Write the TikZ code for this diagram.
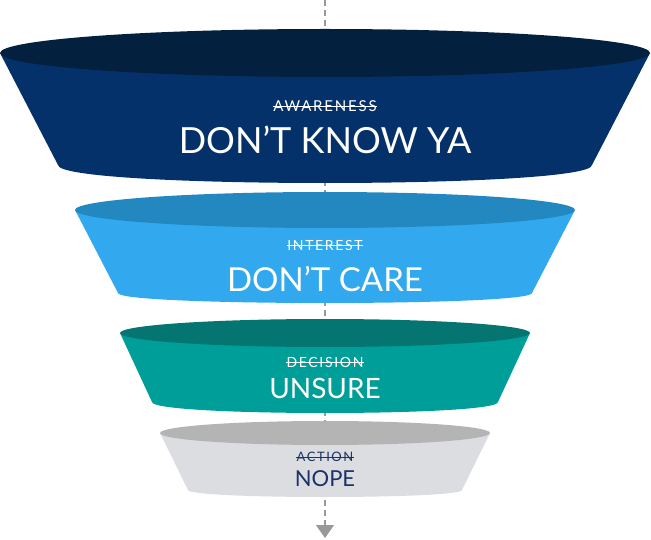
\documentclass[tikz,border=0pt]{standalone}
\usepackage{fontspec}
\setmainfont{Lato}
\newfontfamily\spacedfont[LetterSpace=12]{Lato}
\usetikzlibrary{arrows.meta}

\definecolor{navybody}{HTML}{05316A}
\definecolor{navytop}{HTML}{03203F}
\definecolor{skybody}{HTML}{32A9EE}
\definecolor{skytop}{HTML}{2488C0}
\definecolor{tealbody}{HTML}{009E99}
\definecolor{tealtop}{HTML}{047570}
\definecolor{greybody}{HTML}{DCDDE0}
\definecolor{greytop}{HTML}{B4B4B4}
\definecolor{inknavy}{HTML}{1B3368}

\tikzset{
  guide/.style={gray!80, line width=1.2pt, dash pattern=on 6pt off 4pt},
  sublabel/.style={inner sep=0pt, font=\spacedfont},
  mainlabel/.style={inner sep=0pt}
}

\begin{document}
\begin{tikzpicture}[x=1pt,y=-1pt]
\useasboundingbox (0,0) rectangle (651,540);

% centre guide with arrow
\coordinate (guidetop) at (325,0);
\coordinate (guidetip) at (325,538);
\draw[guide, -{Triangle[width=18pt,length=13pt]}] (guidetop) -- (guidetip);

% funnel parts
\foreach \i/\rx/\cy/\ry/\bw/\by/\bd/\body/\top/\ink/\sub/\subsize/\subpos/\main/\mainsize/\mainpos in
{1/325/53/24/267/165/18/navybody/navytop/white/AWARENESS/15/106/DON'T KNOW YA/36/140,
 2/250/210/18/207/293/10/skybody/skytop/white/INTEREST/14/245/DON'T CARE/33/279,
 3/205/333/14/173/402/11/tealbody/tealtop/white/DECISION/14/362/UNSURE/28/388,
 4/165/433/12/137/490/7/greybody/greytop/inknavy/ACTION/13/457/NOPE/22/479}
{
  \pgfmathsetmacro\ctl{\by+4/3*\bd}
  \fill[\body] (325-\rx,\cy) -- (325-\bw,\by)
     .. controls (325-\bw,\ctl) and (325+\bw,\ctl) .. (325+\bw,\by)
     -- (325+\rx,\cy) -- cycle;
  \fill[\top] (325,\cy) ellipse[x radius=\rx, y radius=\ry];
  \node[sublabel, text=\ink, font=\fontsize{\subsize}{\subsize}\spacedfont] (sub\i) at (325,\subpos) {\sub};
  \draw[\ink, line width=0.8pt] (sub\i.west) -- (sub\i.east);
  \node[mainlabel, text=\ink, font=\fontsize{\mainsize}{\mainsize}\selectfont] (lab\i) at (325,\mainpos) {\main};
}
\end{tikzpicture}
\end{document}
